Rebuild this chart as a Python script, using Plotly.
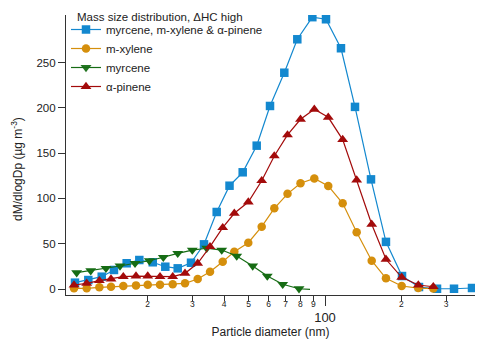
import plotly.graph_objects as go

# ---- data ----
# combined experiment: myrcene, m-xylene & alpha-pinene
d_all = [10.34, 11.67, 13.18, 14.73, 16.53, 18.54, 20.94, 23.47, 26.27, 29.64,
         33.35, 37.42, 42.04, 47.38, 53.80, 60.71, 69.12, 77.77, 89.14, 100.9,
         115.6, 131.3, 151.8, 173.9, 201.2, 234.7, 276.4, 322.5, 379.7]
m_all = [7.0, 9.9, 13.6, 21, 28.4, 32, 29.5, 24.6, 22.8, 29,
         49.3, 85, 114, 128.8, 158.2, 202, 238.7, 275.6, 300, 297.7,
         265.7, 201, 121, 52, 14.3, 2.2, 0.3, 0.3, 1.1]

# m-xylene and alpha-pinene experiments (same size bins)
d_xa = [10.25, 11.50, 12.90, 14.34, 16.03, 17.99, 20.01, 22.37, 25.10, 28.07,
        31.49, 35.22, 39.52, 43.91, 49.85, 56.30, 63.12, 71.16, 80.07, 90.76,
        103.0, 117.4, 133.3, 152.8, 173.9, 200.6, 233.2, 267.2]
m_xyl = [0.8, 0.8, 1.9, 2.5, 3.3, 4.0, 4.7, 4.7, 5.2, 6.3,
         11, 19.1, 30.1, 41.2, 51.1, 68.8, 89, 105, 116.7, 122,
         113.7, 94.6, 62.6, 31.2, 11.8, 3.3, 1.0, 0.5]
m_apin = [4.4, 6.3, 9.2, 11, 13.6, 14.3, 14.3, 13.6, 13.6, 17.3,
          28.4, 46.7, 67.7, 83.6, 96, 119.5, 146.8, 170, 187.3, 198.3,
          189.5, 164.9, 120.3, 71.4, 32.8, 12.9, 4.4, 2.5]

# myrcene experiment
d_myr = [10.50, 11.93, 13.70, 15.56, 17.83, 20.30, 23.05, 26.27, 29.99, 34.18,
         39.16, 44.87, 51.88, 59.24, 68.12, 78.98, 87.30]
m_myr = [18, 20.2, 22.8, 25.4, 28.4, 31.2, 35, 39.4, 43, 45,
         43, 36.4, 25.4, 14.3, 5.2, 0.3, -0.5]

names = ["myrcene, m-xylene & α-pinene", "m-xylene", "myrcene", "α-pinene"]
legend_title = "Mass size distribution, ΔHC high"
x_title = "Particle diameter (nm)"
y_title = "dM/dlogDp (µg m<sup>-3</sup>)"

major_ticks = [100]
major_text = ["100"]
minor_ticks = [20, 30, 40, 50, 60, 70, 80, 90, 200, 300]
minor_text = ["2", "3", "4", "5", "6", "7", "8", "9", "2", "3"]
y_ticks = [0, 50, 100, 150, 200, 250]

# ---- styling ----
BLUE = "#1388cf"
ORANGE = "#d58f0c"
GREEN = "#166c14"
RED = "#a30b0b"
AX = "#333333"
TXT = "#222222"
FONT = "Liberation Sans, Arial, sans-serif"

fig = go.Figure()
fig.add_trace(go.Scatter(x=d_all, y=m_all, mode="lines+markers", name=names[0],
                         line=dict(color=BLUE, width=1.2),
                         marker=dict(symbol="square", size=8.5, color=BLUE)))
fig.add_trace(go.Scatter(x=d_xa, y=m_xyl, mode="lines+markers", name=names[1],
                         line=dict(color=ORANGE, width=1.2),
                         marker=dict(symbol="circle", size=8.5, color=ORANGE)))
myr_opacity = [1] * (len(d_myr) - 1) + [0]
fig.add_trace(go.Scatter(x=d_myr, y=m_myr, mode="lines+markers", name=names[2],
                         line=dict(color=GREEN, width=1.2),
                         marker=dict(symbol="triangle-down", size=9.5, color=GREEN,
                                     opacity=myr_opacity)))
# red drawn on the overlaid log axis (same range) so that it sits on top and
# the labelled minor ticks are rendered
fig.add_trace(go.Scatter(x=d_xa, y=m_apin, mode="lines+markers", name=names[3],
                         xaxis="x2", yaxis="y",
                         line=dict(color=RED, width=1.2),
                         marker=dict(symbol="triangle-up", size=9.5, color=RED)))

xr = [0.97911, 2.59125]

fig.update_layout(
    width=477, height=339,
    margin=dict(l=66, r=2, t=15, b=44),
    paper_bgcolor="white", plot_bgcolor="white",
    font=dict(family=FONT, size=11, color=TXT),
    showlegend=True,
    legend=dict(x=0.0, y=1.0, xanchor="left", yanchor="top",
                bgcolor="rgba(0,0,0,0)", borderwidth=0,
                font=dict(size=11.5, family=FONT, color=TXT),
                tracegroupgap=0, itemwidth=30),
    xaxis=dict(type="log", range=xr, showline=True, linecolor=AX, linewidth=1.2,
               ticks="outside", ticklen=10, tickwidth=1, tickcolor=AX,
               tickvals=major_ticks, ticktext=major_text,
               tickfont=dict(size=13, family=FONT),
               showgrid=False, zeroline=False,
               title=dict(text=x_title, font=dict(size=12, family=FONT),
                          standoff=0)),
    xaxis2=dict(type="log", range=xr, overlaying="x", anchor="y", side="bottom",
                showline=False, ticks="outside", ticklen=5, tickwidth=1, tickcolor=AX,
                tickvals=minor_ticks, ticktext=minor_text, ticklabelstandoff=-4,
                tickfont=dict(size=8.5, family=FONT),
                showgrid=False, zeroline=False),
    yaxis=dict(range=[-6.62, 302.4], showline=True, linecolor=AX, linewidth=1.2,
               ticks="outside", ticklen=7, tickwidth=1, tickcolor=AX,
               tickvals=y_ticks, tickfont=dict(size=11.5, family=FONT),
               showgrid=False, zeroline=False),
    annotations=[
        dict(text=legend_title, xref="paper", yref="paper", x=0.022, y=0.993,
             xanchor="left", yanchor="middle", showarrow=False,
             font=dict(size=11.5, family=FONT, color=TXT)),
        dict(text=y_title, xref="paper", yref="paper", x=-0.12, y=0.45,
             xanchor="center", yanchor="middle", textangle=-90, showarrow=False,
             font=dict(size=12, family=FONT, color=TXT)),
    ],
)

fig.write_html("out.html")
